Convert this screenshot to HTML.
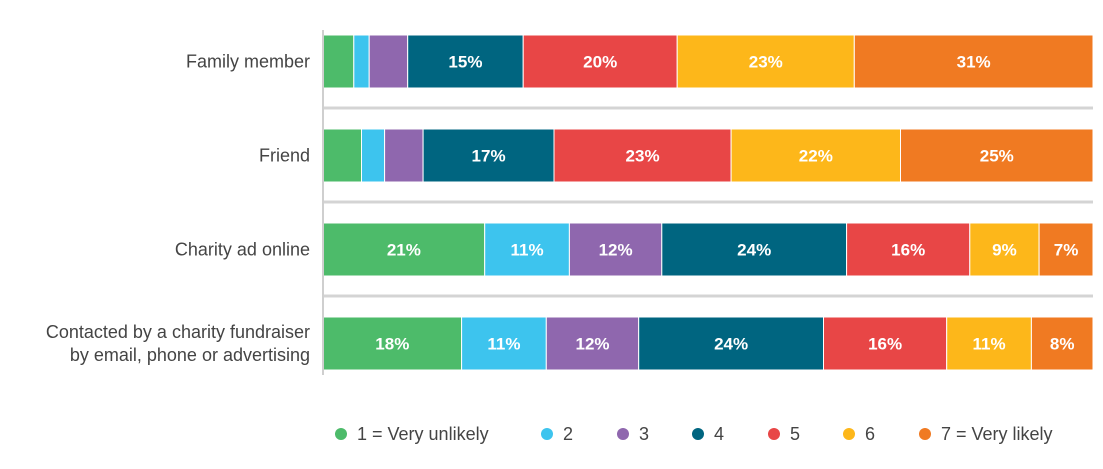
<!DOCTYPE html>
<html><head><meta charset="utf-8"><style>
body{margin:0;background:#fff;}
svg{display:block;font-family:"Liberation Sans",sans-serif;}
</style></head><body>
<svg id="chart" width="1103" height="469"></svg>
<script>
const categories=["Family member","Friend","Charity ad online","Contacted by a charity fundraiser|by email, phone or advertising"];
const s1=[4,5,21,18];
const s2=[2,3,11,11];
const s3=[5,5,12,12];
const s4=[15,17,24,24];
const s5=[20,23,16,16];
const s6=[23,22,9,11];
const s7=[31,25,7,8];
const seriesNames=["1 = Very unlikely","2","3","4","5","6","7 = Very likely"];
const series=[s1,s2,s3,s4,s5,s6,s7];
const colors=["#4DBB6A","#3DC4EE","#8F67AE","#006580","#E84646","#FDB71A","#F07A22"];
const NS="http://www.w3.org/2000/svg";
const svg=document.getElementById('chart');
const x0=323,x1=1093;
const rowTop=i=>35+i*94, barH=53;
function mk(t,a,p){const e=document.createElementNS(NS,t);for(const k in a)e.setAttribute(k,a[k]);(p||svg).appendChild(e);return e;}
categories.forEach((c,i)=>{
  const tot=series.reduce((s,a)=>s+a[i],0);
  const xs=v=>x0+(x1-x0)*v/tot;
  let acc=0;
  const g=mk('g',{});
  
  
  series.forEach((arr,j)=>{
    const v=arr[i];
    const r=mk('rect',{x:xs(acc),y:rowTop(i),width:xs(acc+v)-xs(acc),height:barH,fill:colors[j],stroke:'#fff','stroke-width':1},g);
    
    
    if(v>=7){
      const t=mk('text',{x:(xs(acc)+xs(acc+v))/2,y:rowTop(i)+barH/2+6,'text-anchor':'middle','font-size':17,'font-weight':'bold',fill:'#fff'},g);
      t.textContent=v+'%';
      
      
    }
    acc+=v;
  });
  const lines=c.split('|');
  const lab=mk('text',{x:310,'text-anchor':'end','font-size':18,fill:'#444'});
  
  
  lines.forEach((l,k)=>{const ts=mk('tspan',{x:310,y:rowTop(i)+barH/2+6+(k-(lines.length-1)/2)*23},lab);ts.textContent=l;});
  if(i<categories.length-1){
    const sep=mk('line',{x1:x0,x2:x1,y1:rowTop(i)+barH+20,y2:rowTop(i)+barH+20,stroke:'#d4d4d4','stroke-width':3});
    
    
  }
});
const ax=mk('line',{x1:x0,x2:x0,y1:30,y2:375,stroke:'#cfcfcf','stroke-width':2});


const lx=[341,547,623,698,774,849,925];
seriesNames.forEach((n,j)=>{
  const g=mk('g',{});
  
  
  mk('circle',{cx:lx[j],cy:434,r:6,fill:colors[j]},g);
  const t=mk('text',{x:lx[j]+16,y:440,'font-size':18,fill:'#444'},g);
  t.textContent=n;
});
</script>
</body></html>
